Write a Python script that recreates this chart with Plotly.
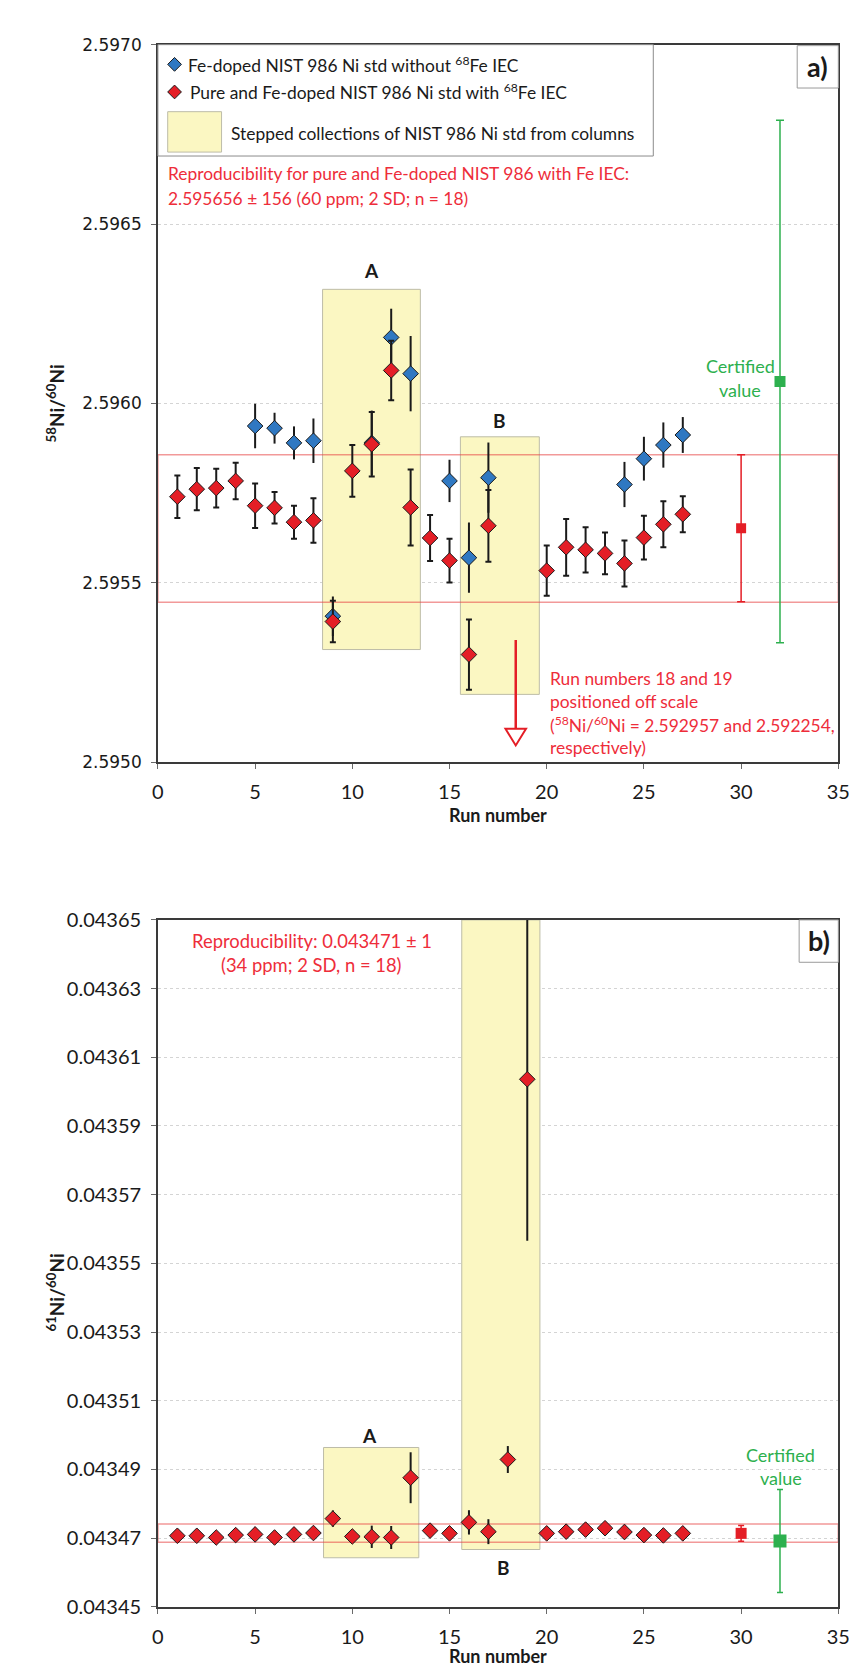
import plotly.graph_objects as go

W, H = 857, 1670

# ---------------- data: panel a (58Ni/60Ni) ----------------
a_red_x = [1, 2, 3, 4, 5, 6, 7, 8, 9, 10, 11, 12, 13, 14, 15, 16, 17, 20, 21, 22, 23, 24, 25, 26, 27]
a_red_y = [2.595740, 2.595761, 2.595764, 2.595784, 2.595715, 2.595709, 2.595669, 2.595674, 2.595392,
           2.595812, 2.595886, 2.596092, 2.595710, 2.595625, 2.595562, 2.595300, 2.595659,
           2.595534, 2.595599, 2.595592, 2.595582, 2.595554, 2.595626, 2.595663, 2.595691]
a_red_err = [0.000059, 0.000059, 0.000054, 0.000051, 0.000062, 0.000044, 0.000046, 0.000062, 0.000058,
             0.000072, 0.000090, 0.000083, 0.000106, 0.000064, 0.000061, 0.000098, 0.000100,
             0.000070, 0.000079, 0.000063, 0.000058, 0.000064, 0.000061, 0.000064, 0.000050]

a_blue_x = [5, 6, 7, 8, 9, 11, 12, 13, 15, 16, 17, 24, 25, 26, 27]
a_blue_y = [2.595937, 2.595931, 2.595890, 2.595896, 2.595407, 2.595890, 2.596184, 2.596083,
            2.595784, 2.595570, 2.595793, 2.595774, 2.595846, 2.595884, 2.595912]
a_blue_err = [0.000062, 0.000043, 0.000046, 0.000062, 0.000055, 0.000090, 0.000080, 0.000105,
              0.000059, 0.000098, 0.000098, 0.000063, 0.000061, 0.000063, 0.000050]

a_mean_x, a_mean_y, a_mean_err = [30], [2.595652], [0.000205]
a_cert_x, a_cert_y, a_cert_err = [32], [2.596061], [0.000728]
a_band = [2.595446, 2.595857]
a_boxA = [8.47, 13.5, 2.595314, 2.596318]
a_boxB = [15.56, 19.62, 2.595189, 2.595907]
a_yticks = [2.5950, 2.5955, 2.5960, 2.5965, 2.5970]

# ---------------- data: panel b (61Ni/60Ni) ----------------
b_x = list(range(1, 28))
b_y = [0.0434707, 0.0434707, 0.0434702, 0.0434709, 0.0434711, 0.0434702, 0.0434711, 0.0434715,
       0.0434757, 0.0434705, 0.0434704, 0.0434702, 0.0434876, 0.0434722, 0.0434714, 0.0434746,
       0.0434719, 0.0434929, 0.0436036, 0.0434714, 0.0434719, 0.0434725, 0.0434729, 0.0434718,
       0.0434709, 0.0434708, 0.0434714]
b_err = [0.00000134, 0.00000124, 0.00000096, 0.00000134, 0.00000172, 0.00000134, 0.00000134,
         0.00000153, 0.00000239, 0.00000191, 0.00000325, 0.00000335, 0.00000741, 0.00000163,
         0.00000134, 0.00000354, 0.00000363, 0.00000392, 0.0000470, 0.00000191, 0.00000210,
         0.00000191, 0.00000153, 0.00000210, 0.00000134, 0.00000163, 0.00000096]

b_mean_x, b_mean_y, b_mean_err = [30], [0.0434714], [0.0000023]
b_cert_x, b_cert_y, b_cert_err = [32], [0.0434692], [0.0000150]
b_band = [0.0434688, 0.0434741]
b_boxA = [8.52, 13.42, 0.0434643, 0.0434964]
b_boxB = [15.63, 19.65, 0.0434667, 0.04365]
b_yticks = [0.04345, 0.04347, 0.04349, 0.04351, 0.04353, 0.04355, 0.04357, 0.04359, 0.04361, 0.04363, 0.04365]

x_ticks = [0, 5, 10, 15, 20, 25, 30, 35]
x_range = [0, 35]

# ---------------- styling ----------------
RED = "#E41E26"
BLUE = "#2F78C2"
GREEN = "#2DB04E"
BLACK = "#1a1a1a"
YELLOW = "#FBF7C2"
BOXLINE = "#BDBCA8"
BANDLINE = "rgba(232,70,70,0.55)"
TXT_RED = "#EE2D3A"
FONT = "Lato"


def PX(x):
    return x / W


def PY(y):
    return 1 - y / H


fig = go.Figure()

# panel a traces
fig.add_trace(go.Scatter(
    x=a_blue_x, y=a_blue_y, mode="markers", xaxis="x", yaxis="y",
    marker=dict(symbol="diamond", size=12, color=BLUE, line=dict(color=BLACK, width=1)),
    error_y=dict(type="data", array=a_blue_err, color=BLACK, thickness=2, width=0),
    showlegend=False))
fig.add_trace(go.Scatter(
    x=a_red_x, y=a_red_y, mode="markers", xaxis="x", yaxis="y",
    marker=dict(symbol="diamond", size=12, color=RED, line=dict(color=BLACK, width=1)),
    error_y=dict(type="data", array=a_red_err, color=BLACK, thickness=2, width=3),
    showlegend=False))
fig.add_trace(go.Scatter(
    x=a_mean_x, y=a_mean_y, mode="markers", xaxis="x", yaxis="y",
    marker=dict(symbol="square", size=10, color=RED),
    error_y=dict(type="data", array=a_mean_err, color=RED, thickness=1.5, width=4),
    showlegend=False))
fig.add_trace(go.Scatter(
    x=a_cert_x, y=a_cert_y, mode="markers", xaxis="x", yaxis="y",
    marker=dict(symbol="square", size=11, color=GREEN),
    error_y=dict(type="data", array=a_cert_err, color=GREEN, thickness=1.5, width=4),
    showlegend=False))

# panel b traces
fig.add_trace(go.Scatter(
    x=b_x, y=b_y, mode="markers", xaxis="x2", yaxis="y2",
    marker=dict(symbol="diamond", size=12, color=RED, line=dict(color=BLACK, width=1)),
    error_y=dict(type="data", array=b_err, color=BLACK, thickness=2, width=0),
    showlegend=False))
fig.add_trace(go.Scatter(
    x=b_mean_x, y=b_mean_y, mode="markers", xaxis="x2", yaxis="y2",
    marker=dict(symbol="square", size=11, color=RED),
    error_y=dict(type="data", array=b_mean_err, color=RED, thickness=1.5, width=3),
    showlegend=False))
fig.add_trace(go.Scatter(
    x=b_cert_x, y=b_cert_y, mode="markers", xaxis="x2", yaxis="y2",
    marker=dict(symbol="square", size=13, color=GREEN),
    error_y=dict(type="data", array=b_cert_err, color=GREEN, thickness=1.5, width=3),
    showlegend=False))

shapes = []
# yellow boxes
for bx, xr, yr in [(a_boxA, "x", "y"), (a_boxB, "x", "y"), (b_boxA, "x2", "y2"), (b_boxB, "x2", "y2")]:
    shapes.append(dict(type="rect", xref=xr, yref=yr, x0=bx[0], x1=bx[1], y0=bx[2], y1=bx[3],
                       fillcolor=YELLOW, line=dict(color=BOXLINE, width=1), layer="between"))
# reproducibility bands
shapes.append(dict(type="rect", xref="x", yref="y", x0=x_range[0], x1=x_range[1], y0=a_band[0], y1=a_band[1],
                   line=dict(color=BANDLINE, width=1.5), fillcolor="rgba(0,0,0,0)", layer="between"))
shapes.append(dict(type="rect", xref="x2", yref="y2", x0=x_range[0], x1=x_range[1], y0=b_band[0], y1=b_band[1],
                   line=dict(color=BANDLINE, width=1.5), fillcolor="rgba(0,0,0,0)", layer="between"))

# legend box (panel a)
shapes.append(dict(type="rect", xref="paper", yref="paper", x0=PX(147), x1=PX(653), y0=PY(137), y1=PY(24),
                   fillcolor="white", line=dict(color="#8c8c8c", width=1), layer="above"))


def diamond(cx, cy, r, color):
    path = (f"M {PX(cx - r)},{PY(cy)} L {PX(cx)},{PY(cy - r)} "
            f"L {PX(cx + r)},{PY(cy)} L {PX(cx)},{PY(cy + r)} Z")
    return dict(type="path", xref="paper", yref="paper", path=path, fillcolor=color,
                line=dict(color=BLACK, width=1), layer="above")


shapes.append(diamond(164, 44, 7, BLUE))
shapes.append(diamond(164, 72, 7, RED))
shapes.append(dict(type="rect", xref="paper", yref="paper", x0=PX(157), x1=PX(212), y0=PY(133), y1=PY(92),
                   fillcolor=YELLOW, line=dict(color=BOXLINE, width=1), layer="above"))

# a) and b) label boxes
shapes.append(dict(type="rect", xref="paper", yref="paper", x0=PX(800), x1=PX(842), y0=PY(68), y1=PY(25),
                   fillcolor="white", line=dict(color="#9a9a9a", width=1), layer="above"))
shapes.append(dict(type="rect", xref="paper", yref="paper", x0=PX(802), x1=PX(842), y0=PY(955), y1=PY(912),
                   fillcolor="white", line=dict(color="#9a9a9a", width=1), layer="above"))

# off-scale arrow (panel a)
shapes.append(dict(type="line", xref="paper", yref="paper", x0=PX(512.5), x1=PX(512.5), y0=PY(628), y1=PY(719),
                   line=dict(color=RED, width=2.5), layer="above"))
shapes.append(dict(type="path", xref="paper", yref="paper",
                   path=f"M {PX(502)},{PY(718)} L {PX(523)},{PY(718)} L {PX(512.5)},{PY(735)} Z",
                   fillcolor="white", line=dict(color=RED, width=2), layer="above"))

ann = []


def txt(x, y, s, size, color=BLACK, anchor="left", bold=False, xref="paper", yref="paper", angle=0):
    if xref == "paper":
        x = PX(x)
    if yref == "paper":
        y = PY(y)
    if bold:
        s = f"<b>{s}</b>"
    ann.append(dict(x=x, y=y, xref=xref, yref=yref, text=s, showarrow=False, xanchor=anchor,
                    yanchor="middle", textangle=angle,
                    font=dict(family=FONT, size=size, color=color)))


# legend texts
txt(176, 44, "Fe-doped NIST 986 Ni std without <sup>68</sup>Fe IEC", 17.4)
txt(178, 72, "Pure and Fe-doped NIST 986 Ni std with <sup>68</sup>Fe IEC", 17.4)
txt(220, 114, "Stepped collections of NIST 986 Ni std from columns", 17.4)
# reproducibility a
txt(155, 155, "Reproducibility for pure and Fe-doped NIST 986 with Fe IEC:", 17.4, TXT_RED)
txt(155, 180, "2.595656 ± 156 (60 ppm; 2 SD; n = 18)", 17.4, TXT_RED)
# a) b)
txt(821, 46, "a)", 27, anchor="center", bold=True)
txt(822, 933, "b)", 27, anchor="center", bold=True)
# A/B labels panel a
txt(11, 2.59637, "A", 19, anchor="center", bold=True, xref="x", yref="y")
txt(17.55, 2.595953, "B", 19, anchor="center", bold=True, xref="x", yref="y")
# off-scale note
for i, line in enumerate(["Run numbers 18 and 19", "positioned off scale",
                          "(<sup>58</sup>Ni/<sup>60</sup>Ni = 2.592957 and 2.592254,", "respectively)"]):
    txt(545, 667 + i * 23.3, line, 17.4, TXT_RED)
# certified value a
txt(742, 350, "Certified", 18, GREEN, anchor="center")
txt(742, 374, "value", 18, GREEN, anchor="center")
# panel b texts
txt(304, 933, "Reproducibility: 0.043471 ± 1", 18.4, TXT_RED, anchor="center")
txt(304, 958, "(34 ppm; 2 SD, n = 18)", 18.4, TXT_RED, anchor="center")
txt(10.87, 0.0434999, "A", 19, anchor="center", bold=True, xref="x2", yref="y2")
txt(17.8, 0.0434614, "B", 19, anchor="center", bold=True, xref="x2", yref="y2")
txt(32.03, 0.0434942, "Certified", 18, GREEN, anchor="center", xref="x2", yref="y2")
txt(32.03, 0.0434874, "value", 18, GREEN, anchor="center", xref="x2", yref="y2")
# axis titles
txt(494, 806, "Run number", 18, anchor="center", bold=True)
txt(494, 1659, "Run number", 18, anchor="center", bold=True)
txt(42, 388, "<sup>58</sup>Ni/<sup>60</sup>Ni", 19, anchor="center", bold=True, angle=-90)
txt(42, 1290, "<sup>61</sup>Ni/<sup>60</sup>Ni", 19, anchor="center", bold=True, angle=-90)

axis_common = dict(showline=True, mirror=True, linecolor="#3a3a3a", linewidth=1.5,
                   ticks="outside", ticklen=5, tickcolor="#6a6a6a", zeroline=False,
                   ticklabelstandoff=6, ticklabeloverflow="allow")

XD = [PX(147), PX(842)]
fig.update_layout(
    width=W, height=H, autosize=False,
    margin=dict(l=0, r=0, t=0, b=0),
    paper_bgcolor="white", plot_bgcolor="white",
    font=dict(family=FONT, color=BLACK),
    xaxis=dict(domain=XD, range=x_range, tickvals=x_ticks, showgrid=False, anchor="y",
               tickfont=dict(family=FONT, size=20, color=BLACK), **axis_common),
    yaxis=dict(domain=[PY(752), PY(24)], range=[2.5950, 2.5970], tickvals=a_yticks,
               tickformat=".4f", anchor="x", showgrid=True, gridcolor="#d4d4d4", griddash="dot",
               tickfont=dict(family="DejaVu Sans", size=17, color=BLACK), **axis_common),
    xaxis2=dict(domain=XD, range=x_range, tickvals=x_ticks, showgrid=False, anchor="y2",
                tickfont=dict(family=FONT, size=20, color=BLACK), **axis_common),
    yaxis2=dict(domain=[PY(1609), PY(912)], range=[0.04345, 0.04365], tickvals=b_yticks,
                tickformat=".5f", anchor="x2", showgrid=True, gridcolor="#d4d4d4", griddash="dot",
                tickfont=dict(family=FONT, size=20, color=BLACK), **axis_common),
    shapes=shapes,
    annotations=ann,
)

fig.write_html("out.html")
